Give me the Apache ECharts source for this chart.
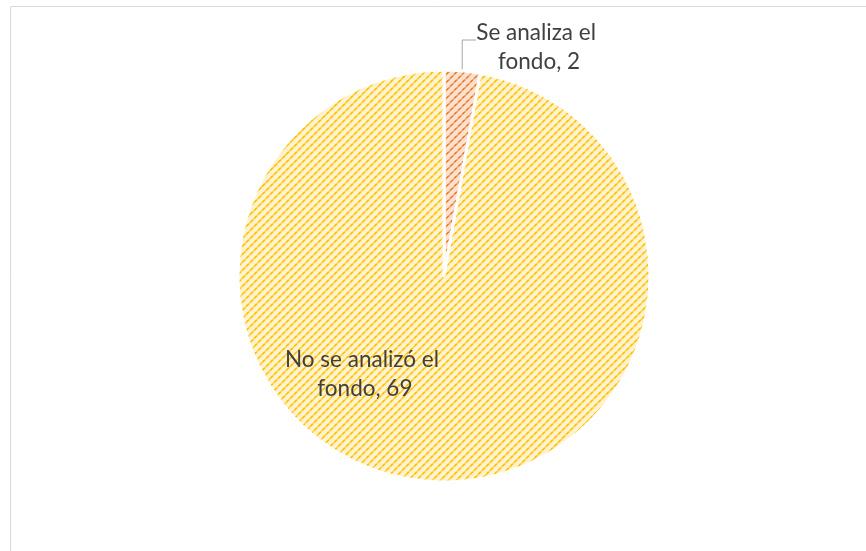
<!DOCTYPE html>
<html>
<head>
<meta charset="utf-8">
<script src="https://cdn.jsdelivr.net/npm/echarts@6/dist/echarts.min.js"></script>
<style>
  html, body { margin: 0; padding: 0; background: #ffffff; }
  #chart { width: 866px; height: 551px; }
</style>
</head>
<body>
<div id="chart"></div>
<script>
// Categories and counts
const categories = ['Se analiza el fondo', 'No se analizó el fondo'];
const counts = [2, 69];

// Dotted upward-diagonal hatch, drawn on a small tile and repeated
function hatch(bg, dark, mid, light) {
  const n = 8;
  const c = document.createElement('canvas');
  c.width = n; c.height = n;
  const g = c.getContext('2d');
  g.fillStyle = bg;
  g.fillRect(0, 0, n, n);
  for (let y = 0; y < n; y++) {
    const x0 = n - 1 - y;
    for (let k = 0; k < 3; k++) {
      const x = (x0 + k) % n;
      if (k === 2) g.fillStyle = light;
      else g.fillStyle = (y % 4 < 2) ? dark : mid;
      g.fillRect(x, y, 1, 1);
    }
  }
  return { image: c, repeat: 'repeat' };
}

const fills = [
  hatch('#FBE1CE', '#ED7D31', '#F3A877', '#F7C7A5'),
  hatch('#FFF2CC', '#FFC000', '#FFD34D', '#FFE38F')
];

const chart = echarts.init(document.getElementById('chart'), null, { renderer: 'canvas' });

chart.setOption({
  animation: false,
  backgroundColor: '#ffffff',
  graphic: [{
    type: 'rect',
    shape: { x: 10.5, y: 6.5, width: 900, height: 600 },
    style: { fill: 'none', stroke: '#D9D9D9', lineWidth: 1 },
    silent: true
  }],
  series: [{
    type: 'pie',
    center: [444, 276],
    radius: 206,
    startAngle: 90,
    clockwise: true,
    itemStyle: { borderColor: '#ffffff', borderWidth: 3 },
    label: {
      show: true,
      formatter: '{b}, {c}',
      fontFamily: 'Lato',
      fontSize: 22.5,
      lineHeight: 29,
      color: '#404040',
      overflow: 'break',
      align: 'center'
    },
    labelLine: {
      show: true,
      length: 10,
      length2: 10,
      lineStyle: { color: '#A6A6A6', width: 1 }
    },
    labelLayout: function (p) {
      if (p.dataIndex === 0) {
        const s = p.labelLinePoints ? p.labelLinePoints[0] : [462, 72];
        return {
          x: 539, y: 47, align: 'center', verticalAlign: 'middle',
          labelLinePoints: [s, [s[0], 40], [476, 40]]
        };
      }
      return { x: 362, y: 374, align: 'center', verticalAlign: 'middle' };
    },
    data: categories.map(function (name, i) {
      const item = {
        name: name,
        value: counts[i],
        itemStyle: { color: fills[i] }
      };
      if (i === 0) {
        item.label = { position: 'outside', width: 138 };
      } else {
        item.label = { position: 'inside', width: 168 };
        item.labelLine = { show: false };
      }
      return item;
    })
  }]
});
</script>
</body>
</html>
